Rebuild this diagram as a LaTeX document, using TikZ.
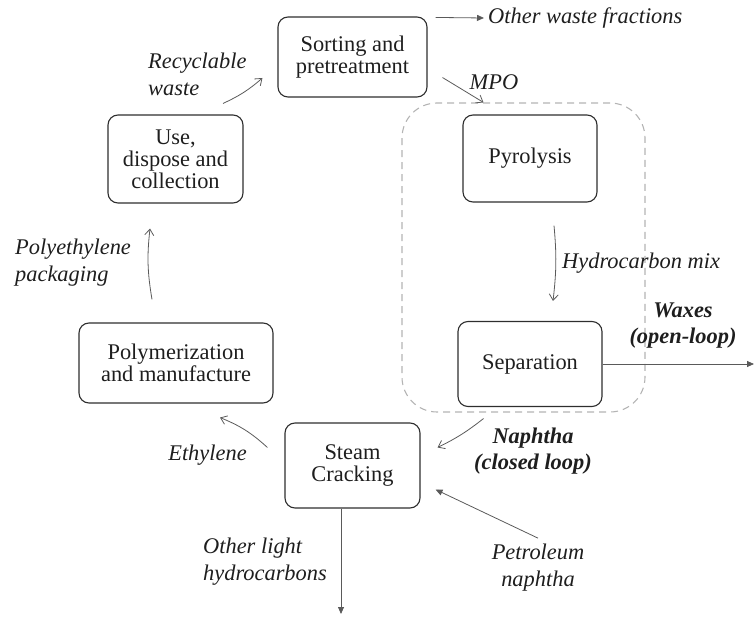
\documentclass[tikz,border=0pt]{standalone}
\usepackage{fontspec}
\setmainfont{Liberation Serif}
\usetikzlibrary{arrows.meta,calc}
\definecolor{txt}{HTML}{1E1E1E}
\definecolor{boxc}{HTML}{2E2E2E}
\definecolor{arrc}{HTML}{5A5A5A}
\definecolor{dashc}{HTML}{B4B4B4}
\begin{document}
\begin{tikzpicture}[x=1pt,y=-1pt,
  box/.style={draw=boxc, line width=1.1pt, rounded corners=10pt, align=center, inner sep=0pt, text=txt,
    font=\fontsize{22.4}{22}\selectfont},
  lbl/.style={font=\fontsize{22.4}{27}\selectfont\itshape, inner sep=0pt, text=txt},
  blbl/.style={font=\fontsize{22.4}{26}\selectfont\bfseries\itshape, inner sep=0pt, align=center, text=txt},
  arr/.style={draw=arrc, line width=0.8pt, -{Straight Barb[length=6pt,width=9pt]}},
  farr/.style={draw=arrc, line width=0.8pt, -{Triangle[length=7pt,width=6pt]}},
  grpbox/.style={draw=dashc, line width=1.1pt, dash pattern=on 7pt off 5pt, rounded corners=35pt, inner sep=0pt}
]
\useasboundingbox (0,0) rectangle (755,617);

% group region
\node[grpbox, minimum width=243pt, minimum height=309pt] (grp) at (523.5,257.5) {};

% process boxes
\node[box, minimum width=149pt, minimum height=80pt] (sort)  at (352.5,57)   {Sorting and\\pretreatment};
\node[box, minimum width=135pt, minimum height=88pt] (use)   at (175.5,159)  {Use,\\dispose and\\collection};
\node[box, minimum width=134pt, minimum height=87pt] (pyro)  at (530,158.5)  {Pyrolysis};
\node[box, minimum width=144pt, minimum height=85pt] (sep)   at (530,364)    {Separation};
\node[box, minimum width=194pt, minimum height=80pt] (poly)  at (176,363)    {Polymerization\\and manufacture};
\node[box, minimum width=135pt, minimum height=85pt] (steam) at (352.5,465.5) {Steam\\Cracking};

% labels
\node[lbl, align=left, anchor=west] (rw)  at (148,74)  {Recyclable\\waste};
\node[lbl, anchor=west]             (owf) at (488,18)  {Other waste fractions};
\node[lbl]                          (mpo) at (494,82)  {MPO};
\node[lbl, anchor=west]             (hc)  at (562,263) {Hydrocarbon mix};
\node[lbl, align=left, anchor=west] (pp)  at (15,263)  {Polyethylene\\packaging};
\node[lbl]                          (eth) at (207.5,455) {Ethylene};
\node[lbl, align=left, anchor=west] (olh) at (203,562) {Other light\\hydrocarbons};
\node[lbl, align=center]            (pet) at (538,568) {Petroleum\\naphtha};
\node[blbl]                         (nap) at (533,451) {Naphtha\\(closed loop)};
\node[blbl]                         (wax) at (683,326) {Waxes\\(open-loop)};

% free ends
\coordinate (wxend) at (754,364);
\coordinate (lhend) at (341,614);

% connectors
\draw[arr] ([shift={(47.5,-11)}]use.north) to[bend right=8] ([shift={(-15,21)}]sort.west);
\draw[farr] ([shift={(8,1)}]sort.north east) -- ([xshift=-4]owf.west);
\draw[arr] ([shift={(15,-20)}]sort.south east) -- ([xshift=-40]grp.north);
\draw[arr] ([shift={(24,23)}]pyro.south) to[bend left=6] ([shift={(23,-20)}]sep.north);
\draw[farr] (sep.east) -- (wxend);
\draw[arr] ([shift={(-40,6)}]grp.south) to[bend left=6] ([shift={(17,-18)}]steam.east);
\draw[farr] ([shift={(0,-6)}]pet.north) -- ([shift={(15,24)}]steam.east);
\draw[farr] ([xshift=-11.5]steam.south) -- (lhend);
\draw[arr] ([shift={(-17,-18)}]steam.west) to[bend right=10] ([shift={(44,14)}]poly.south);
\draw[arr] ([shift={(-24,-23)}]poly.north) to[bend left=8] ([shift={(-25.5,25)}]use.south);
\end{tikzpicture}
\end{document}
